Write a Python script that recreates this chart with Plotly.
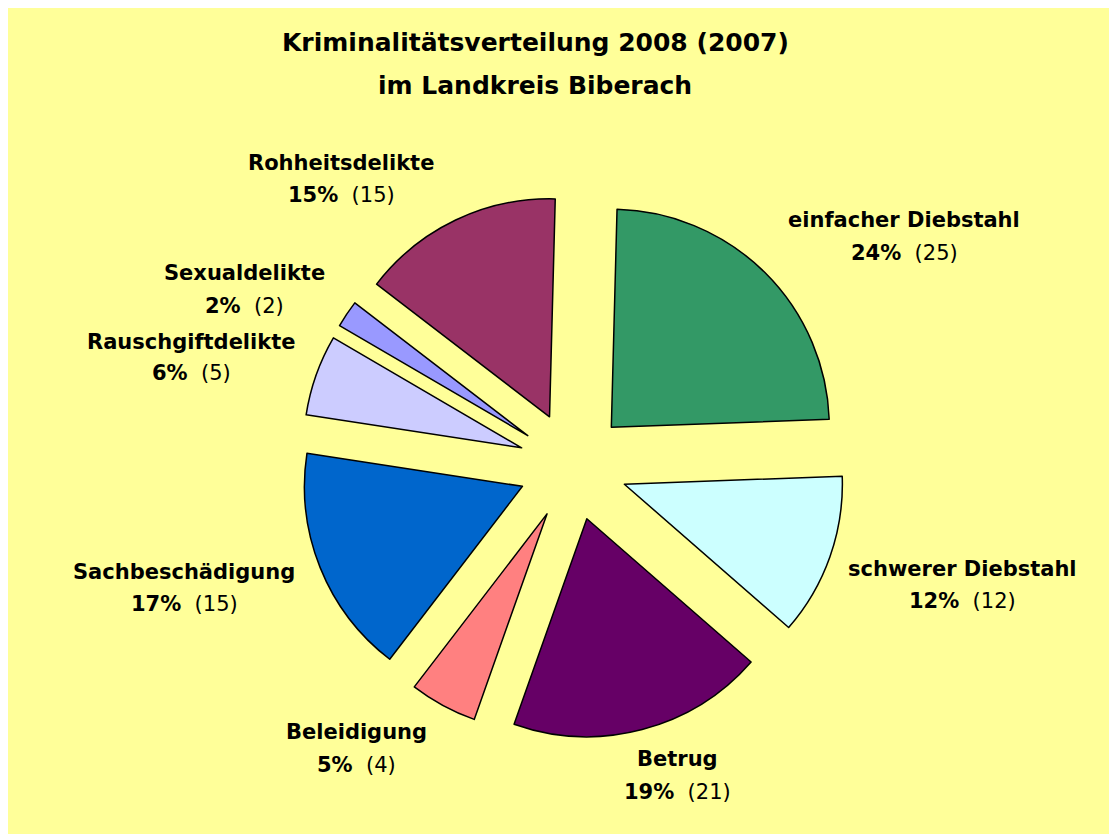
import plotly.graph_objects as go

# ---- data ----
categories = ["einfacher Diebstahl", "schwerer Diebstahl", "Betrug", "Beleidigung",
              "Sachbeschädigung", "Rauschgiftdelikte", "Sexualdelikte", "Rohheitsdelikte"]
pct_2008 = [24, 12, 19, 5, 17, 6, 2, 15]
vals_2007 = [25, 12, 21, 4, 15, 5, 2, 15]
colors = ["#339966", "#CCFFFF", "#660066", "#FF8080",
          "#0066CC", "#CCCCFF", "#9999FF", "#993366"]
title_lines = ["Kriminalitätsverteilung 2008 (2007)", "im Landkreis Biberach"]

# ---- layout helpers (pixel positions of label centres: name line, value line) ----
W, H = 1117, 834
label_pos = {
    "einfacher Diebstahl": (896, 212, 245),
    "schwerer Diebstahl": (954, 561, 593),
    "Betrug": (669, 751, 784),
    "Beleidigung": (348, 724, 757),
    "Sachbeschädigung": (176, 564, 596),
    "Rauschgiftdelikte": (183, 334, 365),
    "Sexualdelikte": (237, 265, 298),
    "Rohheitsdelikte": (333, 155, 187),
}

cx, cy, box = 565, 458, 545
fig = go.Figure(go.Pie(
    labels=categories,
    values=pct_2008,
    sort=False,
    direction="clockwise",
    rotation=1.5,
    pull=[0.25] * len(categories),
    marker=dict(colors=colors, line=dict(color="black", width=1.5)),
    textinfo="none",
    hoverinfo="label+percent",
    showlegend=False,
    domain=dict(x=[(cx - box / 2) / W, (cx + box / 2) / W],
                y=[(H - cy - box / 2) / H, (H - cy + box / 2) / H]),
))

FONT = "DejaVu Sans"
annotations = []
for cat, p, v in zip(categories, pct_2008, vals_2007):
    x, y1, y2 = label_pos[cat]
    annotations.append(dict(x=x / W, y=1 - y1 / H, xref="paper", yref="paper",
                            text=f"<b>{cat}</b>", showarrow=False,
                            xanchor="center", yanchor="middle",
                            font=dict(family=FONT, size=21, color="black")))
    annotations.append(dict(x=x / W, y=1 - y2 / H, xref="paper", yref="paper",
                            text=f"<b>{p}%</b>  ({v})", showarrow=False,
                            xanchor="center", yanchor="middle",
                            font=dict(family=FONT, size=21, color="black")))

for line, ty in zip(title_lines, [35, 78]):
    annotations.append(dict(x=527 / W, y=1 - ty / H, xref="paper", yref="paper",
                            text=f"<b>{line}</b>", showarrow=False,
                            xanchor="center", yanchor="middle",
                            font=dict(family=FONT, size=25, color="black")))

fig.update_layout(
    width=W, height=H,
    margin=dict(l=0, r=0, t=0, b=0),
    paper_bgcolor="#FFFF99",
    plot_bgcolor="#FFFF99",
    annotations=annotations,
)

fig.write_html("out.html")
